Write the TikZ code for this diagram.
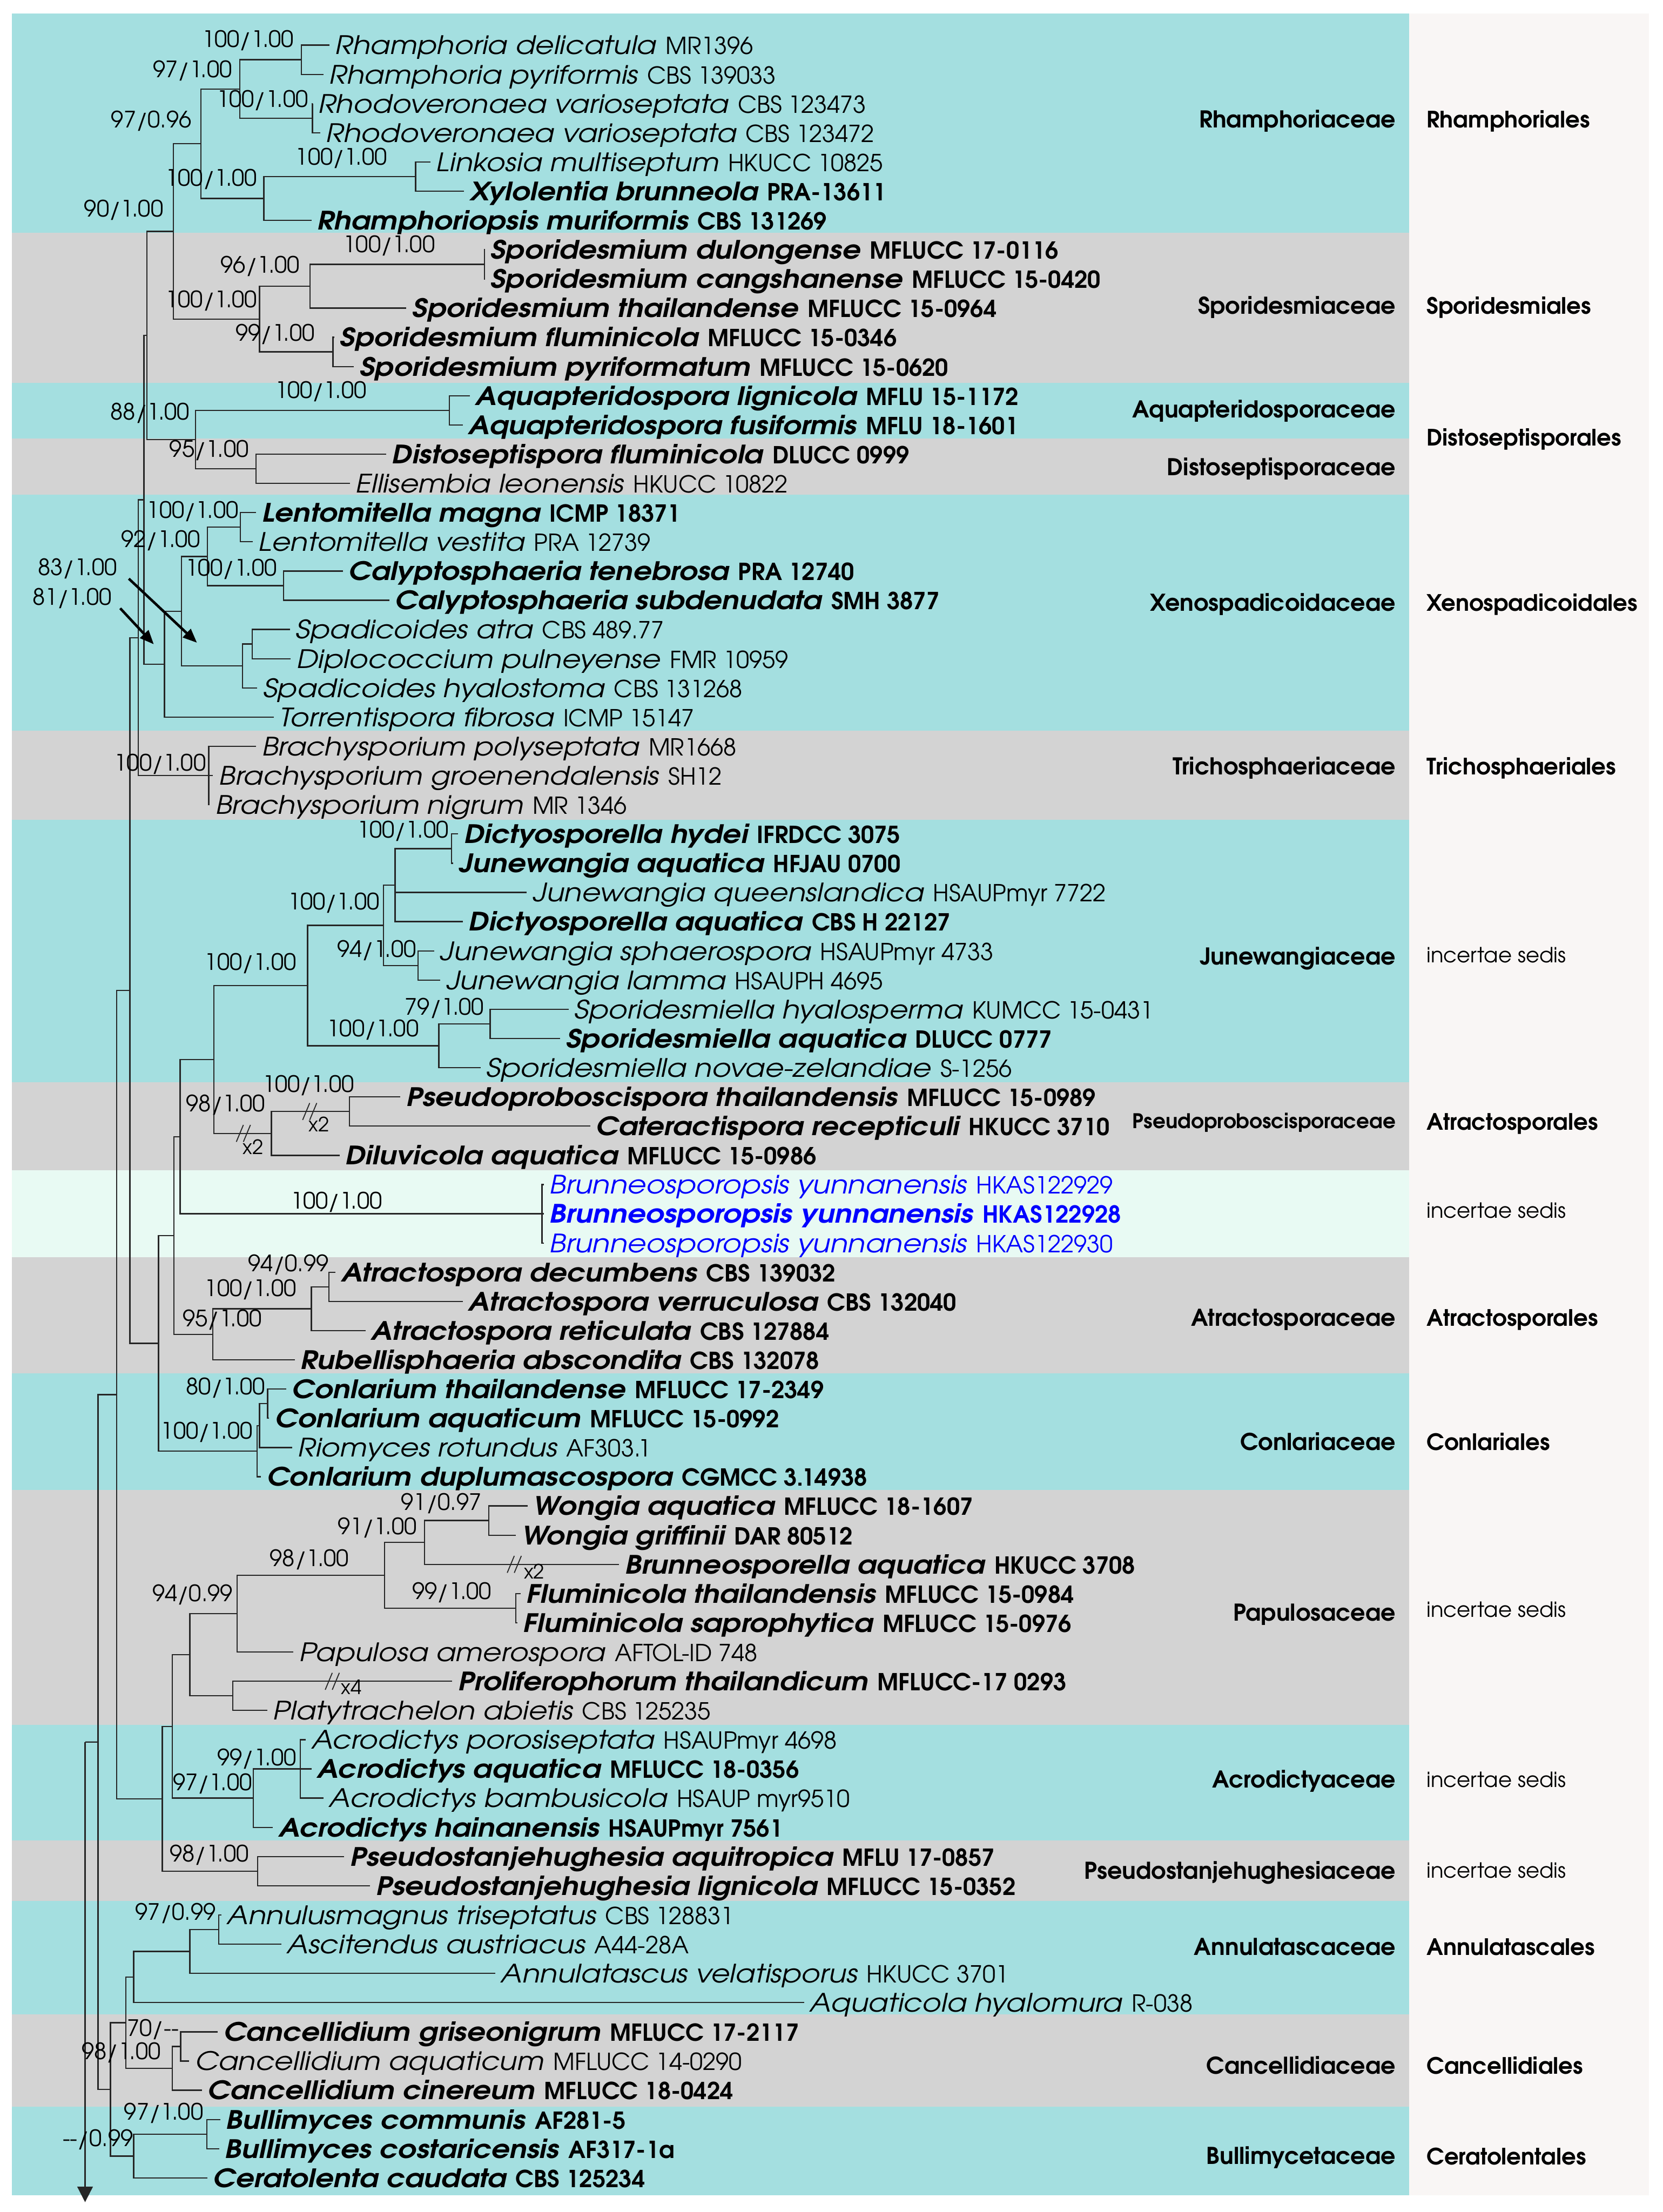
\documentclass[tikz,border=0pt]{standalone}
\usepackage{fontspec}
\setmainfont{texgyreadventor}[Extension=.otf, UprightFont=*-regular, BoldFont=*-bold, ItalicFont=*-italic, BoldItalicFont=*-bolditalic]
\newfontfamily\spf{texgyreadventor}[Extension=.otf, UprightFont=*-regular, BoldFont=*-bold, ItalicFont=*-italic, BoldItalicFont=*-bolditalic, FakeStretch=1.135]
\usetikzlibrary{calc,arrows.meta}
\definecolor{tealb}{RGB}{164,223,224}
\definecolor{grayb}{RGB}{211,211,211}
\definecolor{mintb}{RGB}{232,250,243}
\definecolor{panelb}{RGB}{249,246,245}
\definecolor{bluet}{RGB}{0,0,255}
\newcommand\fs[1]{\fontsize{#1}{#1}\selectfont}
\newcommand\tn[2]{{\spf\fs{18}\itshape #1}\hspace{6.5pt}{\fs{16.6}#2}}
\newcommand\tb[2]{{\spf\fs{18}\bfseries\itshape #1}\hspace{6.5pt}{\fs{16.6}\bfseries #2}}
\newcommand\ry[1]{{32+(#1-1)*20.71}}
\newcommand\T[4]{\coordinate (t#1) at ({#2-4},\ry{#1}); \node[tx] (n#1) at (#2,\ry{#1}) {\tn{#3}{#4}};}
\newcommand\TB[4]{\coordinate (t#1) at ({#2-4},\ry{#1}); \node[tx] (n#1) at (#2,\ry{#1}) {\tb{#3}{#4}};}
\newcommand\TU[4]{\coordinate (t#1) at ({#2-4},\ry{#1}); \node[tx,text=bluet] (n#1) at (#2,\ry{#1}) {\tn{#3}{#4}};}
\newcommand\TUB[4]{\coordinate (t#1) at ({#2-4},\ry{#1}); \node[tx,text=bluet] (n#1) at (#2,\ry{#1}) {\tb{#3}{#4}};}
\newcommand\N[4]{\path let \p1=($(#3)!0.5!(#4)$) in coordinate (#1) at (#2pt,\y1);}
\newcommand\E[2]{\foreach \c in {#2} {\draw[br] (#1) |- (\c);}}
\newcommand\brk[3]{\draw[bk] ({#2-5.5},{#3+6}) -- ({#2-0.5},{#3-6}); \draw[bk] ({#2-0.5},{#3+6}) -- ({#2+4.5},{#3-6});}
\begin{document}
\begin{tikzpicture}[x=1pt,y=-1pt,
  br/.style={line width=0.9pt,draw=black!85},
  bk/.style={line width=0.7pt,draw=black!85},
  tx/.style={anchor=west,inner sep=0pt,text height=13.3pt,text depth=0pt},
  sp/.style={inner sep=0pt,text height=11.8pt,text depth=0pt,font=\fs{16}},
  xm/.style={inner sep=0pt,font=\fs{14}},
  fam/.style={anchor=east,inner sep=0pt,text height=12pt,text depth=0pt,font=\fs{16.4}\bfseries},
  ordn/.style={anchor=west,inner sep=0pt,text height=12pt,text depth=0pt,font=\fs{16}\bfseries},
  inc/.style={anchor=west,inner sep=0pt,text height=10.5pt,text depth=0pt,font=\fs{14.8}},
  arr/.style={line width=1.8pt,draw=black,-{Triangle[length=10pt,width=8pt]}}]
\useasboundingbox (0,0) rectangle (1178.5,1568);
\fill[white] (0,0) rectangle (1178.5,1568);
% bands
\fill[panelb] (998.8,9.5) rectangle (1168.6,1556);
\fill[tealb] (8.5,9.5) rectangle (998.8,165);
\fill[grayb] (8.5,165) rectangle (998.8,271.5);
\fill[tealb] (8.5,271.5) rectangle (998.8,311);
\fill[grayb] (8.5,311) rectangle (998.8,350.5);
\fill[tealb] (8.5,350.5) rectangle (998.8,518);
\fill[grayb] (8.5,518) rectangle (998.8,581);
\fill[tealb] (8.5,581) rectangle (998.8,767);
\fill[grayb] (8.5,767) rectangle (998.8,829.5);
\fill[mintb] (8.5,829.5) rectangle (998.8,891);
\fill[grayb] (8.5,891) rectangle (998.8,973.5);
\fill[tealb] (8.5,973.5) rectangle (998.8,1056);
\fill[grayb] (8.5,1056) rectangle (998.8,1222.5);
\fill[tealb] (8.5,1222.5) rectangle (998.8,1304.5);
\fill[grayb] (8.5,1304.5) rectangle (998.8,1347.5);
\fill[tealb] (8.5,1347.5) rectangle (998.8,1428);
\fill[grayb] (8.5,1428) rectangle (998.8,1493.5);
\fill[tealb] (8.5,1493.5) rectangle (998.8,1556);
% tips
\T{1}{237.4}{Rhamphoria delicatula}{MR1396}
\T{2}{233.3}{Rhamphoria pyriformis}{CBS 139033}
\T{3}{225.5}{Rhodoveronaea varioseptata}{CBS 123473}
\T{4}{231}{Rhodoveronaea varioseptata}{CBS 123472}
\T{5}{309}{Linkosia multiseptum}{HKUCC 10825}
\TB{6}{333}{Xylolentia brunneola}{PRA-13611}
\TB{7}{224.8}{Rhamphoriopsis muriformis}{CBS 131269}
\TB{8}{347.4}{Sporidesmium dulongense}{MFLUCC 17-0116}
\TB{9}{347.4}{Sporidesmium cangshanense}{MFLUCC 15-0420}
\TB{10}{292}{Sporidesmium thailandense}{MFLUCC 15-0964}
\TB{11}{240.8}{Sporidesmium fluminicola}{MFLUCC 15-0346}
\TB{12}{254.8}{Sporidesmium pyriformatum}{MFLUCC 15-0620}
\TB{13}{337}{Aquapteridospora lignicola}{MFLU 15-1172}
\TB{14}{332}{Aquapteridospora fusiformis}{MFLU 18-1601}
\TB{15}{277.6}{Distoseptispora fluminicola}{DLUCC 0999}
\T{16}{252}{Ellisembia leonensis}{HKUCC 10822}
\TB{17}{185.6}{Lentomitella magna}{ICMP 18371}
\T{18}{183}{Lentomitella vestita}{PRA 12739}
\TB{19}{247}{Calyptosphaeria tenebrosa}{PRA 12740}
\TB{20}{280}{Calyptosphaeria subdenudata}{SMH 3877}
\T{21}{209.5}{Spadicoides atra}{CBS 489.77}
\T{22}{210}{Diplococcium pulneyense}{FMR 10959}
\T{23}{186.3}{Spadicoides hyalostoma}{CBS 131268}
\T{24}{198}{Torrentispora fibrosa}{ICMP 15147}
\T{25}{185.6}{Brachysporium polyseptata}{MR1668}
\T{26}{155}{Brachysporium groenendalensis}{SH12}
\T{27}{152.6}{Brachysporium nigrum}{MR 1346}
\TB{28}{328.7}{Dictyosporella hydei}{IFRDCC 3075}
\TB{29}{325}{Junewangia aquatica}{HFJAU 0700}
\T{30}{377.4}{Junewangia queenslandica}{HSAUPmyr 7722}
\TB{31}{332}{Dictyosporella aquatica}{CBS H 22127}
\T{32}{311.6}{Junewangia sphaerospora}{HSAUPmyr 4733}
\T{33}{316}{Junewangia lamma}{HSAUPH 4695}
\T{34}{407}{Sporidesmiella hyalosperma}{KUMCC 15-0431}
\TB{35}{401}{Sporidesmiella aquatica}{DLUCC 0777}
\T{36}{344.7}{Sporidesmiella novae-zelandiae}{S-1256}
\TB{37}{287.8}{Pseudoproboscispora thailandensis}{MFLUCC 15-0989}
\TB{38}{422.3}{Cateractispora recepticuli}{HKUCC 3710}
\TB{39}{244.6}{Diluvicola aquatica}{MFLUCC 15-0986}
\TU{40}{389.3}{Brunneosporopsis yunnanensis}{HKAS122929}
\TUB{41}{389.3}{Brunneosporopsis yunnanensis}{HKAS122928}
\TU{42}{389.3}{Brunneosporopsis yunnanensis}{HKAS122930}
\TB{43}{241.8}{Atractospora decumbens}{CBS 139032}
\TB{44}{332}{Atractospora verruculosa}{CBS 132040}
\TB{45}{263}{Atractospora reticulata}{CBS 127884}
\TB{46}{212.9}{Rubellisphaeria abscondita}{CBS 132078}
\TB{47}{206.7}{Conlarium thailandense}{MFLUCC 17-2349}
\TB{48}{194.8}{Conlarium aquaticum}{MFLUCC 15-0992}
\T{49}{211}{Riomyces rotundus}{AF303.1}
\TB{50}{189}{Conlarium duplumascospora}{CGMCC 3.14938}
\TB{51}{378}{Wongia aquatica}{MFLUCC 18-1607}
\TB{52}{369.6}{Wongia griffinii}{DAR 80512}
\TB{53}{442.8}{Brunneosporella aquatica}{HKUCC 3708}
\TB{54}{373}{Fluminicola thailandensis}{MFLUCC 15-0984}
\TB{55}{370.6}{Fluminicola saprophytica}{MFLUCC 15-0976}
\T{56}{211.9}{Papulosa amerospora}{AFTOL-ID 748}
\TB{57}{324.6}{Proliferophorum thailandicum}{MFLUCC-17 0293}
\T{58}{193.5}{Platytrachelon abietis}{CBS 125235}
\T{59}{220.7}{Acrodictys porosiseptata}{HSAUPmyr 4698}
\TB{60}{224.8}{Acrodictys aquatica}{MFLUCC 18-0356}
\T{61}{233.3}{Acrodictys bambusicola}{HSAUP myr9510}
\TB{62}{197.5}{Acrodictys hainanensis}{HSAUPmyr 7561}
\TB{63}{248}{Pseudostanjehughesia aquitropica}{MFLU 17-0857}
\TB{64}{266.4}{Pseudostanjehughesia lignicola}{MFLUCC 15-0352}
\T{65}{160.8}{Annulusmagnus triseptatus}{CBS 128831}
\T{66}{203.3}{Ascitendus austriacus}{A44-28A}
\T{67}{355}{Annulatascus velatisporus}{HKUCC 3701}
\T{68}{574}{Aquaticola hyalomura}{R-038}
\TB{69}{158.4}{Cancellidium griseonigrum}{MFLUCC 17-2117}
\T{70}{138}{Cancellidium aquaticum}{MFLUCC 14-0290}
\TB{71}{147.1}{Cancellidium cinereum}{MFLUCC 18-0424}
\TB{72}{160}{Bullimyces communis}{AF281-5}
\TB{73}{159.4}{Bullimyces costaricensis}{AF317-1a}
\TB{74}{150.9}{Ceratolenta caudata}{CBS 125234}
% internal nodes
\N{a1}{213.6}{t1}{t2}
\N{a2}{221.4}{t3}{t4}
\N{a3}{170}{a1}{a2}
\N{a4}{294.6}{t5}{t6}
\N{a5}{187}{a4}{t7}
\N{a6}{142.4}{a3}{a5}
\N{b1}{343.3}{t8}{t9}
\N{b2}{219.7}{b1}{t10}
\N{b3}{236}{t11}{t12}
\N{b4}{184}{b2}{b3}
\N{c1}{123}{a6}{b4}
\N{d1}{318.5}{t13}{t14}
\N{d2}{181.5}{t15}{t16}
\N{d3}{138.6}{d1}{d2}
\N{e1}{104}{c1}{d3}
\N{x1}{170.3}{t17}{t18}
\N{x2}{201}{t19}{t20}
\N{x3}{147}{x1}{x2}
\N{x4}{178.8}{t21}{t22}
\N{x5}{172}{x4}{t23}
\N{x6}{128.7}{x3}{x5}
\N{x7}{116.5}{x6}{t24}
\N{e2}{102}{e1}{x7}
\N{tr}{148}{t25}{t27}
\N{e3}{98}{e2}{tr}
\N{j1}{320}{t28}{t29}
\N{j2}{280}{j1}{t31}
\N{j3}{296.3}{t32}{t33}
\N{j4}{271.8}{j2}{j3}
\N{j5}{347.4}{t34}{t35}
\N{j6}{311}{j5}{t36}
\N{j7}{218}{j4}{j6}
\N{p1}{247.6}{t37}{t38}
\N{p2}{192.4}{p1}{t39}
\N{p3}{151.6}{j7}{p2}
\N{bn}{384.2}{t40}{t42}
\N{p4}{127.7}{p3}{bn}
\N{at1}{233.2}{t43}{t44}
\N{at2}{220.7}{at1}{t45}
\N{at3}{150.9}{at2}{t46}
\N{p5}{123.3}{p4}{at3}
\N{co1}{189.7}{t47}{t48}
\N{co2}{184}{co1}{t49}
\N{co3}{182.2}{co2}{t50}
\N{p6}{112.4}{p5}{co3}
\N{e4}{92}{e3}{p6}
\N{w1}{346.4}{t51}{t52}
\N{w2}{301}{w1}{t53}
\N{f1}{365.5}{t54}{t55}
\N{w3}{272.5}{w2}{f1}
\N{w4}{168}{w3}{t56}
\N{w5}{164.9}{t57}{t58}
\N{w6}{134.5}{w4}{w5}
\N{ac1}{212.9}{t59}{t61}
\N{ac2}{179.5}{ac1}{t62}
\N{g1}{122}{w6}{ac2}
\N{ps}{182.6}{t63}{t64}
\N{g2}{115.1}{g1}{ps}
\N{e5}{82.8}{e4}{g2}
\N{an1}{155}{t65}{t66}
\N{an2}{134.5}{an1}{t67}
\N{an3}{94.7}{an2}{t68}
\N{ca1}{128}{t69}{t70}
\N{ca2}{122}{ca1}{t71}
\N{h1}{89.2}{an3}{ca2}
\N{bu1}{146.5}{t72}{t73}
\N{bu2}{94.7}{bu1}{t74}
\N{h2}{78.3}{h1}{bu2}
\N{e6}{69.5}{e5}{h2}
\N{root}{60.3}{e6}{e6}
\coordinate (rootend) at (60.3,1561);
% edges
\E{a1}{t1,t2}\E{a2}{t3,t4}\E{a3}{a1,a2}\E{a4}{t5,t6}\E{a5}{a4,t7}\E{a6}{a3,a5}
\E{b1}{t8,t9}\E{b2}{b1,t10}\E{b3}{t11,t12}\E{b4}{b2,b3}\E{c1}{a6,b4}
\E{d1}{t13,t14}\E{d2}{t15,t16}\E{d3}{d1,d2}\E{e1}{c1,d3}
\E{x1}{t17,t18}\E{x2}{t19,t20}\E{x3}{x1,x2}\E{x4}{t21,t22}\E{x5}{x4,t23}
\E{x6}{x3,x5}\E{x7}{x6,t24}\E{e2}{e1,x7}
\E{tr}{t25,t26,t27}\E{e3}{e2,tr}
\E{j1}{t28,t29}\E{j2}{j1,t30,t31}\E{j3}{t32,t33}\E{j4}{j2,j3}\E{j5}{t34,t35}
\E{j6}{j5,t36}\E{j7}{j4,j6}
\E{p1}{t37,t38}\E{p2}{p1,t39}\E{p3}{j7,p2}\E{bn}{t40,t41,t42}\E{p4}{p3,bn}
\E{at1}{t43,t44}\E{at2}{at1,t45}\E{at3}{at2,t46}\E{p5}{p4,at3}
\E{co1}{t47,t48}\E{co2}{co1,t49}\E{co3}{co2,t50}\E{p6}{p5,co3}\E{e4}{e3,p6}
\E{w1}{t51,t52}\E{w2}{w1,t53}\E{f1}{t54,t55}\E{w3}{w2,f1}\E{w4}{w3,t56}
\E{w5}{t57,t58}\E{w6}{w4,w5}\E{ac1}{t59,t60,t61}\E{ac2}{ac1,t62}\E{g1}{w6,ac2}
\E{ps}{t63,t64}\E{g2}{g1,ps}\E{e5}{e4,g2}
\E{an1}{t65,t66}\E{an2}{an1,t67}\E{an3}{an2,t68}\E{ca1}{t69,t70}\E{ca2}{ca1,t71}
\E{h1}{an3,ca2}\E{bu1}{t72,t73}\E{bu2}{bu1,t74}\E{h2}{h1,bu2}\E{e6}{e5,h2}
\draw[br] (root) -- (e6);
\draw[br,-{Triangle[length=11pt,width=11pt]}] (root) -- (rootend);
% break marks
\brk{bk1}{173}{803.4}
\brk{bk2}{220}{787.9}
\brk{bk3}{365}{1108.9}
\brk{bk4}{236}{1191.8}
\node[xm] (x2a) at (179.5,813) {x2};
\node[xm] (x2b) at (226,797) {x2};
\node[xm] (x2c) at (378.6,1114) {x2};
\node[xm] (x4a) at (249,1196) {x4};
% support values
\node[sp] (l1) at (175.8,27.5) {100/1.00};
\node[sp] (l2) at (136.5,49) {97/1.00};
\node[sp] (l3) at (186,70) {100/1.00};
\node[sp] (l4) at (107.3,84.7) {97/0.96};
\node[sp] (l5) at (241.8,111) {100/1.00};
\node[sp] (l6) at (149.8,126) {100/1.00};
\node[sp] (l7) at (87.7,147.8) {90/1.00};
\node[sp] (l8) at (275.8,173) {100/1.00};
\node[sp] (l9) at (184.5,187.6) {96/1.00};
\node[sp] (l10) at (149.8,212) {100/1.00};
\node[sp] (l11) at (195,236) {99/1.00};
\node[sp] (l12) at (227.3,276.5) {100/1.00};
\node[sp] (l13) at (106.4,291.7) {88/1.00};
\node[sp] (l14) at (148.2,318) {95/1.00};
\node[sp] (l15) at (136.5,361.5) {100/1.00};
\node[sp] (l16) at (114,382) {92/1.00};
\node[sp] (l17) at (163.8,402.4) {100/1.00};
\node[sp] (l18) at (55,402) {83/1.00};
\node[sp] (l19) at (51,423) {81/1.00};
\node[sp] (l20) at (113.5,540.4) {100/1.00};
\node[sp] (l21) at (285.5,588) {100/1.00};
\node[sp] (l22) at (236.5,639) {100/1.00};
\node[sp] (l23) at (267,672.5) {94/1.00};
\node[sp] (l24) at (177.5,682) {100/1.00};
\node[sp] (l25) at (315,713.7) {79/1.00};
\node[sp] (l26) at (264.3,729) {100/1.00};
\node[sp] (l27) at (218.5,768.3) {100/1.00};
\node[sp] (l28) at (160,782) {98/1.00};
\node[sp] (l29) at (238.5,851) {100/1.00};
\node[sp] (l30) at (204.5,895.6) {94/0.99};
\node[sp] (l31) at (177.5,913) {100/1.00};
\node[sp] (l32) at (157.5,934.4) {95/1.00};
\node[sp] (l33) at (160,982.7) {80/1.00};
\node[sp] (l34) at (146.5,1014.2) {100/1.00};
\node[sp] (l35) at (312.8,1064.5) {91/0.97};
\node[sp] (l36) at (267.3,1081.8) {91/1.00};
\node[sp] (l37) at (219.3,1104.6) {98/1.00};
\node[sp] (l38) at (136.5,1129.4) {94/0.99};
\node[sp] (l39) at (320.3,1127.6) {99/1.00};
\node[sp] (l40) at (182,1245.6) {99/1.00};
\node[sp] (l41) at (150.5,1263.3) {97/1.00};
\node[sp] (l42) at (148.3,1314) {98/1.00};
\node[sp] (l43) at (124.5,1355.3) {97/0.99};
\node[sp,anchor=west] (l44) at (90,1437.6) {70/-{}-};
\node[sp] (l45) at (86,1454.1) {98/1.00};
\node[sp] (l46) at (116,1496.7) {97/1.00};
\node[sp,anchor=east] (l47) at (94.5,1515.7) {-{}-/0.99};
% arrows for 83 and 81
\coordinate (a83s) at (91.3,410.2); \coordinate (a83e) at (139.6,455.6);
\coordinate (a81s) at (85.2,431.2); \coordinate (a81e) at (109,456.7);
\draw[arr] (a83s) -- (a83e);
\draw[arr] (a81s) -- (a81e);
% family labels
\node[fam] (f1) at (989.4,84.6) {Rhamphoriaceae};
\node[fam] (f2) at (989.4,216.5) {Sporidesmiaceae};
\node[fam] (f3) at (989.4,290.2) {Aquapteridosporaceae};
\node[fam] (f4) at (989.4,331) {Distoseptisporaceae};
\node[fam] (f5) at (989.4,427) {Xenospadicoidaceae};
\node[fam] (f6) at (989.4,543) {Trichosphaeriaceae};
\node[fam] (f7) at (989.4,678) {Junewangiaceae};
\node[fam,font=\fs{14.3}\bfseries,text height=10.6pt] (f8) at (989.4,794.5) {Pseudoproboscisporaceae};
\node[fam] (f9) at (989.4,934) {Atractosporaceae};
\node[fam] (f10) at (989.4,1022) {Conlariaceae};
\node[fam] (f11) at (989.4,1143) {Papulosaceae};
\node[fam] (f12) at (989.4,1261.2) {Acrodictyaceae};
\node[fam] (f13) at (989.4,1326) {Pseudostanjehughesiaceae};
\node[fam] (f14) at (989.4,1380) {Annulatascaceae};
\node[fam] (f15) at (989.4,1464) {Cancellidiaceae};
\node[fam] (f16) at (989.4,1528) {Bullimycetaceae};
% order labels
\node[ordn] (o1) at (1011,84.6) {Rhamphoriales};
\node[ordn] (o2) at (1011,216.5) {Sporidesmiales};
\node[ordn] (o3) at (1011,310) {Distoseptisporales};
\node[ordn] (o4) at (1011,427) {Xenospadicoidales};
\node[ordn] (o5) at (1011,543) {Trichosphaeriales};
\node[inc] (o6) at (1011,677) {incertae sedis};
\node[ordn] (o7) at (1011,795) {Atractosporales};
\node[inc] (o8) at (1011,858) {incertae sedis};
\node[ordn] (o9) at (1011,934) {Atractosporales};
\node[ordn] (o10) at (1011,1022) {Conlariales};
\node[inc] (o11) at (1011,1141) {incertae sedis};
\node[inc] (o12) at (1011,1261.5) {incertae sedis};
\node[inc] (o13) at (1011,1326) {incertae sedis};
\node[ordn] (o14) at (1011,1380) {Annulatascales};
\node[ordn] (o15) at (1011,1464) {Cancellidiales};
\node[ordn] (o16) at (1011,1528.4) {Ceratolentales};
\end{tikzpicture}
\end{document}
